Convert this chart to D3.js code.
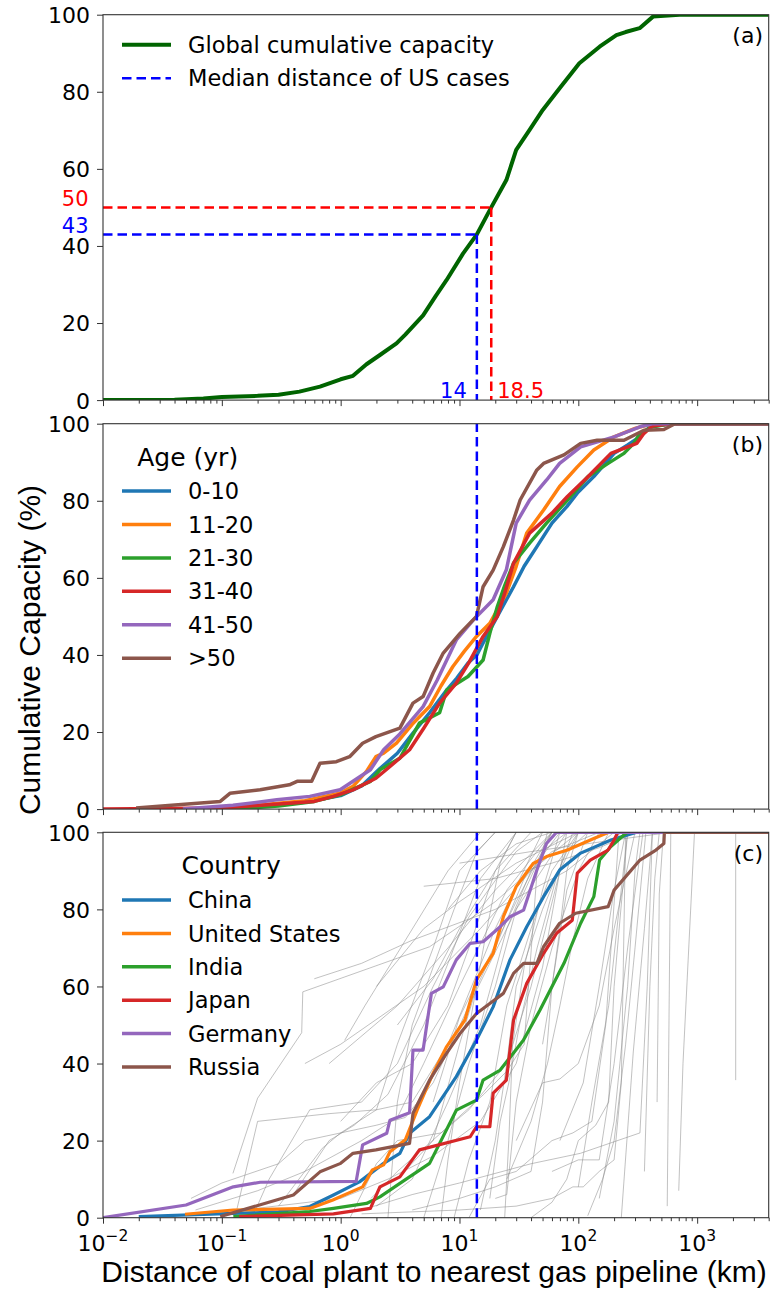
<!DOCTYPE html>
<html>
<head>
<meta charset="utf-8">
<script src="https://cdn.jsdelivr.net/npm/d3@7"></script>
<style>
body { margin: 0; background: #fff; }
svg text { font-family: "DejaVu Sans", sans-serif; fill: #000; }
svg .lab { font-family: "Liberation Sans", Arial, sans-serif; }
</style>
</head>
<body>
<svg id="chart" width="775" height="1291"></svg>
<script>
// ---- data (distance km, cumulative capacity %) ----
var xTickExps = [-2, -1, 0, 1, 2, 3];
var yTicks = [0, 20, 40, 60, 80, 100];

var usMedianKm = 14, usMedianPct = 43;
var globalHalfKm = 18.5, globalHalfPct = 50;

var globalCapacity = [[0.01,0],[0.02,0.05],[0.04,0.1],[0.07,0.4],[0.1,0.8],[0.2,1.1],[0.3,1.4],[0.45,2.2],
  [0.67,3.5],[1.0,5.4],[1.27,6.3],[1.65,9.3],[2.14,11.7],[2.95,14.7],[3.5,17],[4.94,22],[6.3,27],[7.77,31.1],
  [10.7,38],[14,43],[18.5,50],[24.8,57.1],[30,64.9],[38.9,70.1],[50.2,75.3],[69.6,80.9],[102,87.4],[151,91.7],
  [209,94.7],[250,95.5],[328,96.5],[425,99.5],[710,100],[4000,100]];

var ageGroups = ["0-10", "11-20", "21-30", "31-40", "41-50", ">50"];
var age0_10 = [[0.08,0],[0.2,0.8],[0.5,1.8],[1,3.5],[1.5,6],[2.14,10.5],[3,14.5],[4.06,19.7],[5.6,25],[7.8,30.9],
  [9.5,34],[11.8,37.9],[14,40],[15.8,43.1],[20.8,50],[28.5,57.7],[35,63],[44.8,68.1],[60,74.2],[80,78.5],[98,82],
  [135,86.3],[200,92.3],[260,94.5],[330,96.6],[400,99.2],[600,100],[4000,100]];
var age11_20 = [[0.06,0],[0.2,1],[0.5,2.2],[1,4.2],[1.27,5.9],[1.65,9.8],[1.98,13.6],[2.3,14.5],[2.95,17.1],[4,22],
  [5.6,26.6],[7,32],[8.8,37],[11,41],[13.9,44.8],[18,48.2],[24.8,56],[30,63],[36.8,71.6],[51,77.6],[69.6,83.7],
  [98,88.8],[135,93.2],[200,96.6],[300,98.8],[420,100],[4000,100]];
var age21_30 = [[0.12,0],[0.3,0.8],[0.6,2],[1,3.7],[1.78,7.2],[2.14,10.2],[3.15,13.2],[4.6,22.3],[6.8,25],[7.8,30.9],
  [11.8,34.4],[15.8,38.7],[18,45.6],[20.8,52.5],[24,58],[28.5,63.8],[38.9,69],[54,74.2],[81,80.2],[121,86.3],
  [178,89.7],[242,92.3],[293,94.9],[330,97.5],[420,99.2],[600,100],[4000,100]];
var age31_40 = [[0.01,0],[0.1,0.3],[0.45,1.7],[0.6,2],[0.87,3.3],[1.27,5],[1.98,8],[2.5,10.6],[3.8,15.4],[5,21],
  [6.8,27.5],[9.4,32.7],[12,38],[15.8,44.8],[20.8,50],[24,56],[28.5,63.8],[38.9,71.6],[60,76.8],[81,81.1],
  [121,86.3],[188,92.3],[310,94.9],[357,97.5],[420,99.4],[600,100],[4000,100]];
var age41_50 = [[0.047,0],[0.124,1],[0.29,2.4],[0.55,3.3],[0.99,5],[1.78,10.2],[2.3,15.4],[3.15,19.5],[4.94,26.6],
  [6.5,33.5],[9.4,43.9],[13.1,49.1],[19.2,54.3],[24.8,62.1],[30,74.2],[38.9,80.2],[54.1,85.4],[69.6,89.7],
  [104.6,94],[200,96.6],[330,99.2],[420,100],[4000,100]];
var age50plus = [[0.019,0.3],[0.097,2],[0.117,4.1],[0.21,5],[0.37,6.3],[0.43,7.2],[0.57,7.2],[0.67,11.9],[0.92,12.3],
  [1.19,13.6],[1.53,17.1],[1.98,18.8],[3.15,21],[4.06,27.5],[4.94,29.2],[6,35.3],[7.3,40.5],[10.1,45.6],[13.9,50],
  [15.8,57.7],[19.2,62],[23.4,68.1],[28.5,75],[32.4,80.2],[44.8,88],[51,89.7],[75.7,91.9],[104.6,94.9],[144,95.7],
  [242,95.7],[357,98.3],[525,98.5],[650,100],[4000,100]];

var countries = ["China", "United States", "India", "Japan", "Germany", "Russia"];
var china = [[0.02,0.3],[0.3,1.5],[0.55,2.9],[0.87,5.9],[1.44,9.3],[2.3,14.1],[3.15,16.7],[3.8,21.9],[5.6,26.2],
  [9.4,36.6],[13.9,46.1],[19.2,54.7],[26.6,66.9],[36.8,75.5],[51,83.3],[69.6,90.2],[104.6,94.6],[188,98],[310,100],[4000,100]];
var unitedStates = [[0.049,0.9],[0.125,2],[0.55,2.4],[0.86,4.6],[1.53,8],[1.85,12.4],[2.3,13.7],[2.6,17.1],[3.5,20.2],
  [4.4,27.9],[6.0,37.5],[7.8,44.4],[11.1,51.3],[13.9,61.7],[19.2,68.6],[23.4,78.1],[30,85.9],[41.7,91.9],[54,93.7],
  [81,95.4],[135,98.4],[180,100],[4000,100]];
var india = [[0.125,0.3],[0.55,1.6],[0.87,2.4],[1.65,3.7],[2.14,5.4],[3.15,8.9],[5.6,14.1],[9.4,27.9],[13.9,30.5],
  [15.8,35.7],[22,38.3],[34.6,46.1],[47.6,53.9],[75.7,66],[104.6,76.4],[135,83.3],[151,92.8],[188,96.3],[242,99.3],
  [260,100],[4000,100]];
var japan = [[0.14,0.3],[0.87,1],[1.78,2.4],[2.14,8],[3.15,10.6],[4.6,17.6],[12.3,21],[13.9,23.6],[18,23.6],[19.2,32.3],
  [24.8,35.7],[28.5,51.3],[36.8,60.8],[51,68.6],[65.6,73.8],[89,77.2],[98,89.4],[126,92.8],[178,95.4],[200,98],
  [215,100],[4000,100]];
var germany = [[0.01,0],[0.05,3.3],[0.125,8],[0.21,9.2],[1.35,9.4],[1.53,18.9],[2.44,21.9],[2.6,25.3],[3.8,27.2],
  [4.06,43.5],[4.94,43.5],[5.8,58.2],[7.3,59.9],[9.4,66.9],[12.3,71.2],[15.8,71.6],[22,75.5],[26.6,78.1],[34.6,79.8],
  [44.8,90.2],[54,97.1],[65.6,100],[4000,100]];
var russia = [[0.097,0.3],[0.4,5.9],[0.67,11.9],[1.0,14.1],[1.27,16.7],[1.98,17.6],[3.8,19.3],[4.06,27.1],[5.6,35.7],
  [7.8,42.7],[10.1,47.8],[13.9,53],[18,55.6],[23.4,58.2],[28.5,63.4],[34.6,66],[44.8,66],[51,70.3],[69.6,76.4],
  [95,79],[178,80.7],[200,85],[330,92.8],[450,95.4],[525,97.1],[530,100],[4000,100]];

// all other countries, thin grey
var otherCountries = [
  [[0.055,5],[0.1,9],[0.3,14],[0.5,20],[2,24],[3.5,26],[6,35],[12,55],[30,80],[80,100]],
  [[0.124,11.5],[0.2,31],[0.47,48],[0.48,58.6],[5.6,70.3],[20,82],[60,95],[150,100]],
  [[0.06,2],[0.2,7],[0.5,12],[1.5,20],[3,26],[5,40],[10,60],[25,85],[60,100]],
  [[0.13,0.5],[0.2,25],[0.4,26],[0.8,27],[2,28],[4,30],[8,45],[20,75],[50,100]],
  [[0.18,0],[0.25,10],[0.55,28],[1.5,30],[3,40],[6,60],[12,78],[30,95],[50,100]],
  [[0.3,3],[0.7,18],[1,22],[2,28],[3,45],[6,70],[10,90],[20,100]],
  [[0.4,6],[0.8,20],[1.3,24],[2.5,32],[5,50],[8,66],[15,88],[30,100]],
  [[1.5,2],[4,6],[10,9],[40,14],[104,16.7],[330,22],[380,60],[420,100]],
  [[1.08,46],[1.6,55],[3.2,70],[8,90],[15,100]],
  [[2,3],[4,10],[8,30],[15,50],[25,75],[40,90],[70,100]],
  [[5,0],[8,20],[12,40],[20,60],[30,80],[50,95],[80,100]],
  [[3,10],[6,20],[10,45],[14,60],[20,70],[35,88],[60,100]],
  [[1,25],[2,35],[4,40],[8,55],[12,70],[20,90],[30,100]],
  [[9,0],[12,15],[18,30],[25,55],[40,75],[60,90],[100,100]],
  [[15,2],[20,20],[25,40],[30,60],[50,80],[80,95],[120,100]],
  [[20,5],[25,6],[30,30],[40,50],[60,70],[100,90],[150,100]],
  [[4,2],[10,5],[20,8],[40,12],[50,30],[60,60],[80,85],[120,100]],
  [[1.5,1],[10,2],[30,3],[60,5],[90,8],[110,8],[150,12],[200,15],[230,35],[250,100]],
  [[3,50],[6,62],[10,75],[20,90],[40,100]],
  [[0.8,40],[3,55],[8,70],[20,85],[60,100]],
  [[2,60],[5,75],[10,82],[30,92],[100,100]],
  [[6,30],[10,52],[18,68],[30,82],[60,100]],
  [[25,10],[40,25],[55,40],[70,55],[90,72],[120,88],[180,100]],
  [[30,20],[50,35],[70,36],[100,40],[150,55],[200,75],[300,100]],
  [[12,0],[18,10],[30,12],[60,20],[90,22],[130,25],[170,50],[220,100]],
  [[40,0],[60,4],[80,10],[100,20],[140,24],[180,30],[200,60],[260,100]],
  [[8,80],[15,90],[30,97],[60,100]],
  [[0.5,40],[1,45],[5,60],[15,75],[40,90],[100,100]],
  [[1.2,0],[2,14],[3,20],[7,22],[12,28],[25,40],[40,60],[70,90],[100,100]],
  [[0.15,2],[1,5],[2.5,10],[6,16],[15,25],[30,40],[50,65],[80,100]],
  [[24,0],[26,20],[28,45],[35,65],[50,85],[70,100]],
  [[5,86],[20,88],[60,92],[150,96],[300,100]],
  [[10,92],[40,95],[200,98],[600,100]],
  [[0.6,62],[1.5,66],[4,72],[20,80],[80,90],[200,100]],
  [[2110,35.7],[2110,100]],
  [[560,3],[600,100]],
  [[700,7],[760,40],[950,100]],
  [[230,0],[290,43],[360,75],[420,100]],
  [[360,12],[400,60],[440,88],[480,100]],
  [[460,30],[480,84],[520,100]],
  [[150,5],[200,25],[260,60],[300,90],[330,100]],
  [[100,8],[130,30],[180,55],[220,80],[260,100]],
  [[70,20],[110,35],[150,60],[200,85],[250,100]],
  [[120,0.5],[160,10],[200,20],[250,45],[300,70],[370,100]],
  [[60,12],[100,15],[150,15],[200,40],[260,70],[350,100]],
  [[2.5,0],[3,30],[4,50],[6,65],[9,80],[14,95],[20,100]],
  [[7,0],[8,15],[10,35],[13,55],[17,75],[22,92],[30,100]],
  [[18,5],[22,25],[26,35],[32,50],[45,70],[65,88],[90,100]],
  [[1.8,5],[3,12],[5,18],[9,25],[16,32],[25,38],[35,45],[45,90],[55,100]],
  [[50,45],[60,60],[70,75],[80,90],[100,100]]
];

var tab10 = ["#1f77b4", "#ff7f0e", "#2ca02c", "#d62728", "#9467bd", "#8c564b"];

// ---- layout ----
var left = 103, right = 768.7, panelH = 385.4;
var tops = [14.7, 423.7, 832.3];

var svg = d3.select("#chart");
var x = d3.scaleLog().domain([0.01, 4000]).range([left, right]);

var majorTicks = xTickExps.map(function(e) { return Math.pow(10, e); });
var minorTicks = [];
xTickExps.forEach(function(e) {
    for (var k = 2; k <= 9; k++) {
        var v = k * Math.pow(10, e);
        if (v <= 4000) minorTicks.push(v);
    }
});

function makePanel(i) {
    var top = tops[i];
    var y = d3.scaleLinear().domain([0, 100]).range([top + panelH, top]);
    var g = svg.append("g");
    svg.append("clipPath").attr("id", "clip" + i)
        .append("rect").attr("x", left).attr("y", top).attr("width", right - left).attr("height", panelH);
    var plot = g.append("g").attr("clip-path", "url(#clip" + i + ")");

    var ya = g.append("g").attr("transform", "translate(" + left + ",0)")
        .call(d3.axisLeft(y).tickValues(yTicks).tickSize(6).tickPadding(7));
    ya.select(".domain").remove();
    ya.selectAll("text").style("font-size", "22px").attr("dy", "0.36em");
    ya.selectAll("line").attr("stroke", "#333");

    var xb = g.append("g").attr("transform", "translate(0," + (top + panelH) + ")")
        .call(d3.axisBottom(x).tickValues(majorTicks).tickSize(6).tickFormat(""));
    xb.select(".domain").remove();
    xb.selectAll("line").attr("stroke", "#333");
    var xm = g.append("g").attr("transform", "translate(0," + (top + panelH) + ")")
        .call(d3.axisBottom(x).tickValues(minorTicks).tickSize(3.5).tickFormat(""));
    xm.select(".domain").remove();
    xm.selectAll("line").attr("stroke", "#333");

    return {g: g, plot: plot, y: y, top: top};
}

function frame(p) {
    p.g.append("rect").attr("x", left).attr("y", p.top).attr("width", right - left).attr("height", panelH)
        .attr("fill", "none").attr("stroke", "#333").attr("stroke-width", 1.1);
}

function curve(p, data, color, w, opacity) {
    var line = d3.line().x(function(d) { return x(d[0]); }).y(function(d) { return p.y(d[1]); });
    p.plot.append("path").datum(data).attr("d", line)
        .attr("fill", "none").attr("stroke", color).attr("stroke-width", w)
        .attr("stroke-linejoin", "round").attr("opacity", opacity == null ? 1 : opacity);
}

function dashed(p, x1, y1, x2, y2, color) {
    p.plot.append("line").attr("x1", x1).attr("y1", y1).attr("x2", x2).attr("y2", y2)
        .attr("stroke", color).attr("stroke-width", 2.5).attr("stroke-dasharray", "9.5,5");
}

function legend(p, names, colors, x0, y0, step, title, titleY) {
    var maxR = 0;
    names.forEach(function(n, i) {
        var yy = y0 + i * step;
        p.g.append("line").attr("x1", x0).attr("x2", x0 + 49).attr("y1", yy).attr("y2", yy)
            .attr("stroke", colors[i]).attr("stroke-width", 3.5);
        var t = p.g.append("text").attr("x", x0 + 66).attr("y", yy).attr("dy", "0.36em")
            .style("font-size", "22.5px").text(n);
        maxR = Math.max(maxR, x0 + 66 + t.node().getComputedTextLength());
    });
    p.g.append("text").attr("x", (x0 + maxR) / 2).attr("y", titleY).attr("dy", "0.36em")
        .attr("text-anchor", "middle").style("font-size", "25px").text(title);
}

function panelLabel(p, s) {
    p.g.append("text").attr("x", 763).attr("y", p.top + 20.5).attr("dy", "0.36em")
        .attr("text-anchor", "end").style("font-size", "22px").text(s);
}

// ---- (a) global ----
var pa = makePanel(0);
curve(pa, globalCapacity, "#006400", 4);
dashed(pa, x(0.01), pa.y(globalHalfPct), x(globalHalfKm), pa.y(globalHalfPct), "#ff0000");
dashed(pa, x(globalHalfKm), pa.y(globalHalfPct), x(globalHalfKm), pa.y(0), "#ff0000");
dashed(pa, x(0.01), pa.y(usMedianPct), x(usMedianKm), pa.y(usMedianPct), "#0000ff");
dashed(pa, x(usMedianKm), pa.y(usMedianPct), x(usMedianKm), pa.y(0), "#0000ff");
frame(pa);
pa.g.append("text").attr("x", 88.5).attr("y", pa.y(globalHalfPct) - 1).attr("text-anchor", "end")
    .style("font-size", "21px").style("fill", "#ff0000").text(globalHalfPct);
pa.g.append("text").attr("x", 88.5).attr("y", pa.y(usMedianPct) - 1).attr("text-anchor", "end")
    .style("font-size", "21px").style("fill", "#0000ff").text(usMedianPct);
pa.g.append("text").attr("x", x(usMedianKm) - 10).attr("y", pa.y(0) - 2).attr("text-anchor", "end")
    .style("font-size", "21px").style("fill", "#0000ff").text(usMedianKm);
pa.g.append("text").attr("x", x(globalHalfKm) + 6).attr("y", pa.y(0) - 2)
    .style("font-size", "21px").style("fill", "#ff0000").text(globalHalfKm);
// legend (a)
pa.g.append("line").attr("x1", 122).attr("x2", 171).attr("y1", 44.7).attr("y2", 44.7)
    .attr("stroke", "#006400").attr("stroke-width", 4);
pa.g.append("text").attr("x", 188).attr("y", 44.7).attr("dy", "0.36em").style("font-size", "22.5px")
    .text("Global cumulative capacity");
pa.g.append("line").attr("x1", 122).attr("x2", 171).attr("y1", 78.3).attr("y2", 78.3)
    .attr("stroke", "#0000ff").attr("stroke-width", 2.5).attr("stroke-dasharray", "9.5,5");
pa.g.append("text").attr("x", 188).attr("y", 78.3).attr("dy", "0.36em").style("font-size", "22.5px")
    .text("Median distance of US cases");
panelLabel(pa, "(a)");

// ---- (b) by age ----
var pb = makePanel(1);
[age0_10, age11_20, age21_30, age31_40, age41_50, age50plus].forEach(function(s, i) {
    curve(pb, s, tab10[i], 3.5);
});
dashed(pb, x(usMedianKm), pb.y(0), x(usMedianKm), pb.y(100), "#0000ff");
frame(pb);
legend(pb, ageGroups, tab10, 122, 491, 33.45, "Age (yr)", 456.7);
panelLabel(pb, "(b)");

// ---- (c) by country ----
var pc = makePanel(2);
otherCountries.forEach(function(s) { curve(pc, s, "#8c8c8c", 0.9, 0.6); });
[china, unitedStates, india, japan, germany, russia].forEach(function(s, i) {
    curve(pc, s, tab10[i], 3.2);
});
dashed(pc, x(usMedianKm), pc.y(0), x(usMedianKm), pc.y(100), "#0000ff");
frame(pc);
legend(pc, countries, tab10, 122, 900, 33.4, "Country", 865);
panelLabel(pc, "(c)");

// x tick labels (c) as 10^n
xTickExps.forEach(function(e) {
    var t = pc.g.append("text").attr("x", x(Math.pow(10, e))).attr("y", 1251)
        .attr("text-anchor", "middle").style("font-size", "22px");
    t.append("tspan").text("10");
    t.append("tspan").attr("dy", -10).style("font-size", "15.5px").text(e < 0 ? "\u2212" + (-e) : e);
});

// axis titles
svg.append("text").attr("class", "lab").attr("x", 434).attr("y", 1282).attr("text-anchor", "middle")
    .style("font-size", "30px").text("Distance of coal plant to nearest gas pipeline (km)");
svg.append("text").attr("class", "lab").attr("transform", "translate(29,650) rotate(-90)")
    .attr("text-anchor", "middle").attr("dy", "0.35em")
    .style("font-size", "30px").text("Cumulative Capacity (%)");
</script>
</body>
</html>
